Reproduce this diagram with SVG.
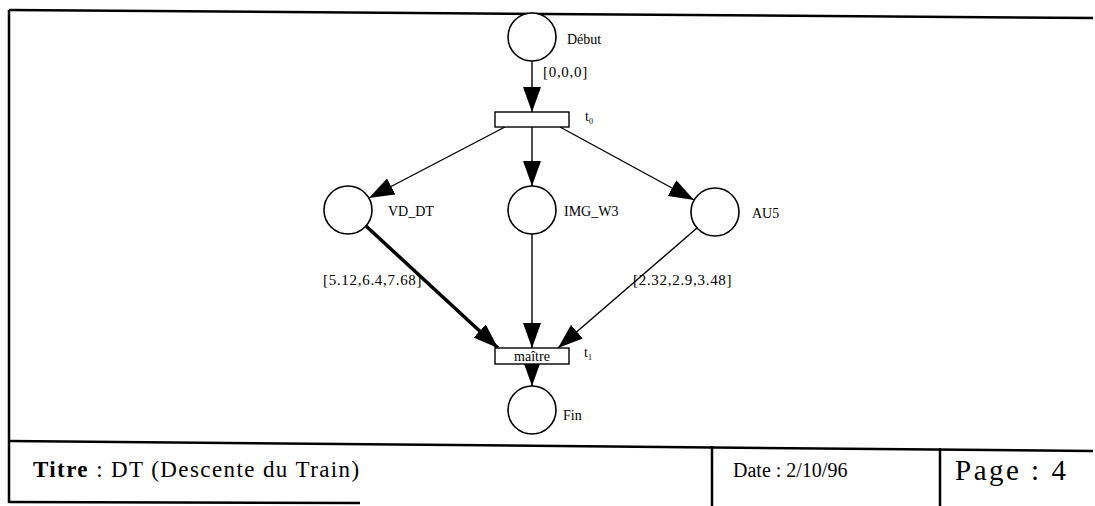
<svg xmlns="http://www.w3.org/2000/svg" width="1095" height="506" viewBox="0 0 1095 506">
<style>
.frame{stroke:#000;stroke-width:2.5;fill:none}
.place{fill:#fff;stroke:#000;stroke-width:1.6}
.trans{fill:#fff;stroke:#000;stroke-width:1.4}
.arc{stroke:#000;stroke-width:1.4;fill:none}
.thick{stroke:#000;stroke-width:3.5;fill:none}
.lbl{font-family:"Liberation Serif",serif;font-size:14px;fill:#000}
.num{font-family:"Liberation Serif",serif;font-size:15px;letter-spacing:0.7px;fill:#000}
.foot{font-family:"Liberation Serif",serif;fill:#000}
</style>
<defs>
<marker id="ah" viewBox="0 0 25 18" refX="25" refY="9" markerUnits="userSpaceOnUse" markerWidth="25" markerHeight="18" orient="auto">
<path d="M0,0 L25,9 L0,18 z" fill="#000"/>
</marker>
</defs>
<rect width="1095" height="506" fill="#fff"/>
<g id="frame">
<path class="frame" d="M9,10 L1093,18"/>
<path class="frame" d="M9,10 L9,503"/>
<path class="frame" d="M9,441 L1093,451"/>
<path class="frame" d="M9,502 L360,503"/>
<path class="frame" d="M712,446 L712,506"/>
<path class="frame" d="M940,448 L940,506"/>
</g>
<g id="connectors">
<line class="arc" x1="532" y1="61" x2="532" y2="112" marker-end="url(#ah)"/>
<line class="arc" x1="505" y1="127" x2="369" y2="198" marker-end="url(#ah)"/>
<line class="arc" x1="532" y1="127" x2="532" y2="186" marker-end="url(#ah)"/>
<line class="arc" x1="560" y1="127" x2="694" y2="200" marker-end="url(#ah)"/>
<line class="thick" x1="366" y1="226" x2="498" y2="348" marker-end="url(#ah)"/>
<line class="arc" x1="532" y1="234" x2="532" y2="348" marker-end="url(#ah)"/>
<line class="arc" x1="697" y1="228" x2="558" y2="348" marker-end="url(#ah)"/>
<line class="arc" x1="532" y1="364" x2="532" y2="386" marker-end="url(#ah)"/>
<text class="num" x="543" y="77">[0,0,0]</text>
<text class="num" x="323" y="285">[5.12,6.4,7.68]</text>
<text class="num" x="633" y="285">[2.32,2.9,3.48]</text>
</g>
<g id="debut">
<circle class="place" cx="532" cy="37" r="24"/>
<text class="lbl" x="567" y="44">Début</text>
</g>
<g id="t0">
<rect class="trans" x="495" y="112" width="74" height="15"/>
<text class="lbl" x="585" y="121">t<tspan font-size="8" dy="3">0</tspan></text>
</g>
<g id="vd_dt">
<circle class="place" cx="348" cy="210" r="24"/>
<text class="lbl" x="388" y="216">VD_DT</text>
</g>
<g id="img_w3">
<circle class="place" cx="532" cy="210" r="24"/>
<text class="lbl" x="564" y="216">IMG_W3</text>
</g>
<g id="au5">
<circle class="place" cx="715" cy="212" r="24"/>
<text class="lbl" x="752" y="218">AU5</text>
</g>
<g id="t1">
<rect class="trans" x="495" y="348" width="74" height="16"/>
<text class="lbl" x="532" y="361" text-anchor="middle">maître</text>
<text class="lbl" x="584" y="357">t<tspan font-size="8" dy="3">1</tspan></text>
</g>
<g id="fin">
<circle class="place" cx="532" cy="410" r="24"/>
<text class="lbl" x="563" y="420">Fin</text>
</g>
<g id="footer">
<text class="foot" x="33" y="477" font-size="23" letter-spacing="1.4"><tspan font-weight="bold">Titre</tspan> : DT (Descente du Train)</text>
<text class="foot" x="733" y="477" font-size="20">Date : 2/10/96</text>
<text class="foot" x="955" y="480" font-size="29" letter-spacing="2.5">Page : 4</text>
</g>
</svg>
